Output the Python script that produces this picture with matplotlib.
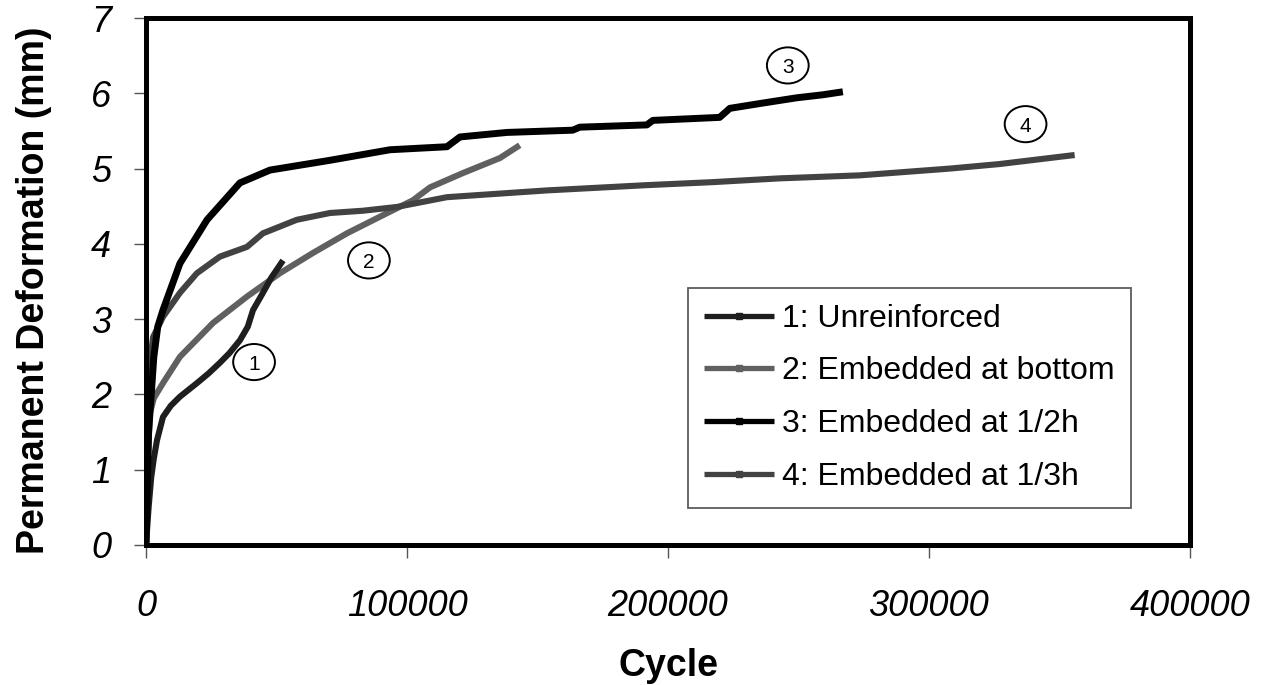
import matplotlib
matplotlib.use("Agg")
import matplotlib.pyplot as plt
from matplotlib.patches import Ellipse

plt.rcParams['font.family'] = ['Liberation Sans', 'DejaVu Sans']

# permanent deformation (mm) against load cycles for each test section
cyc_1 = [0, 1000, 2000, 3000, 4200, 6500, 9500, 13000, 19500, 24000, 28300,
         32000, 36000, 39000, 41000, 44800, 48000, 52500]
def_1 = [0, 0.5, 0.9, 1.15, 1.39, 1.7, 1.85, 1.97, 2.15, 2.28, 2.42,
         2.55, 2.72, 2.9, 3.12, 3.35, 3.55, 3.78]

cyc_2 = [0, 500, 1000, 1500, 3000, 6500, 13000, 25700, 38700, 51300, 64000,
         77000, 89600, 102300, 108800, 121400, 135600, 143200]
def_2 = [0, 0.9, 1.4, 1.75, 1.95, 2.15, 2.5, 2.95, 3.3, 3.61, 3.88,
         4.14, 4.36, 4.58, 4.75, 4.94, 5.14, 5.31]

cyc_3 = [0, 500, 1000, 2000, 3000, 4500, 6500, 13000, 23400, 36000, 47500,
         70500, 93500, 115300, 120300, 138300, 163500, 166200, 191900, 194200,
         219800, 223700, 236300, 249300, 259300, 267000]
def_3 = [0, 0.8, 1.5, 2.0, 2.5, 2.9, 3.12, 3.74, 4.32, 4.81, 4.98,
         5.11, 5.25, 5.29, 5.42, 5.48, 5.51, 5.55, 5.58, 5.64,
         5.68, 5.80, 5.87, 5.94, 5.98, 6.02]

cyc_4 = [0, 500, 1000, 1800, 2700, 6500, 13000, 19500, 28300, 38700, 44800,
         57800, 70500, 83100, 96100, 115300, 153600, 191900, 217200, 242800,
         273500, 308000, 327000, 355800]
def_4 = [0, 1.2, 1.9, 2.5, 2.76, 3.03, 3.35, 3.61, 3.83, 3.96, 4.14,
         4.32, 4.41, 4.44, 4.49, 4.62, 4.71, 4.78, 4.82, 4.87,
         4.91, 5.0, 5.06, 5.18]

labels = ['1: Unreinforced', '2: Embedded at bottom',
          '3: Embedded at 1/2h', '4: Embedded at 1/3h']
colors = ['#1e1e1e', '#606060', '#000000', '#424242']

# circled curve numbers
tag_text = ['1', '2', '3', '4']
tag_x = [41400, 85400, 245900, 337000]
tag_y = [2.43, 3.78, 6.37, 5.59]

xticks = [0, 100000, 200000, 300000, 400000]
yticks = [0, 1, 2, 3, 4, 5, 6, 7]

fig = plt.figure(figsize=(12.67, 6.85), dpi=100)
ax = fig.add_axes([146 / 1267, 1 - 545 / 685, 1044 / 1267, 527 / 685])

series = [(cyc_1, def_1), (cyc_2, def_2), (cyc_3, def_3), (cyc_4, def_4)]
order = [1, 3, 0, 2]  # lighter curves go underneath
handles = [None] * 4
for i in order:
    x, y = series[i]
    lw = 5.0 if i == 2 else 4.4
    h, = ax.plot(x, y, color=colors[i], lw=lw, marker='s', ms=0,
                 solid_capstyle='butt', solid_joinstyle='round', label=labels[i])
    handles[i] = h

for t, x, y in zip(tag_text, tag_x, tag_y):
    ax.add_patch(Ellipse((x, y), 16000, 0.48, facecolor='white',
                         edgecolor='black', lw=1.4, zorder=5))
    ax.text(x, y - 0.03, t, ha='center', va='center', fontsize=15, zorder=6)

ax.set_xlim(0, 400000)
ax.set_ylim(0, 7)
ax.set_xticks(xticks)
ax.set_yticks(yticks)
ax.set_xticklabels([str(v) for v in xticks], fontstyle='italic', fontsize=26)
ax.set_yticklabels([str(v) for v in yticks], fontstyle='italic', fontsize=26)
ax.tick_params(axis='both', direction='out', length=9, width=1, color='#555555')
ax.tick_params(axis='x', pad=23)
ax.tick_params(axis='y', pad=16)

for s in ax.spines.values():
    s.set_linewidth(3.6)
    s.set_color('black')

ax.set_xlabel('Cycle', fontsize=27, fontweight='bold')
ax.xaxis.set_label_coords(0.5, -0.195)
ax.set_ylabel('Permanent Deformation (mm)', fontsize=27, fontweight='bold')
ax.yaxis.set_label_coords(-0.09, 0.484)

leg = ax.legend(handles, labels, loc='upper left', bbox_to_anchor=(0.519, 0.488),
                borderaxespad=0, fontsize=23, frameon=True, fancybox=False,
                edgecolor='#333333', handlelength=2.2, handletextpad=0.25,
                borderpad=0.5, labelspacing=0.71, numpoints=1)
leg.get_frame().set_linewidth(1.3)
for lh in leg.get_lines():
    lh.set_linewidth(3.8)
    lh.set_markersize(5)

fig.savefig('out.png', dpi=100)
